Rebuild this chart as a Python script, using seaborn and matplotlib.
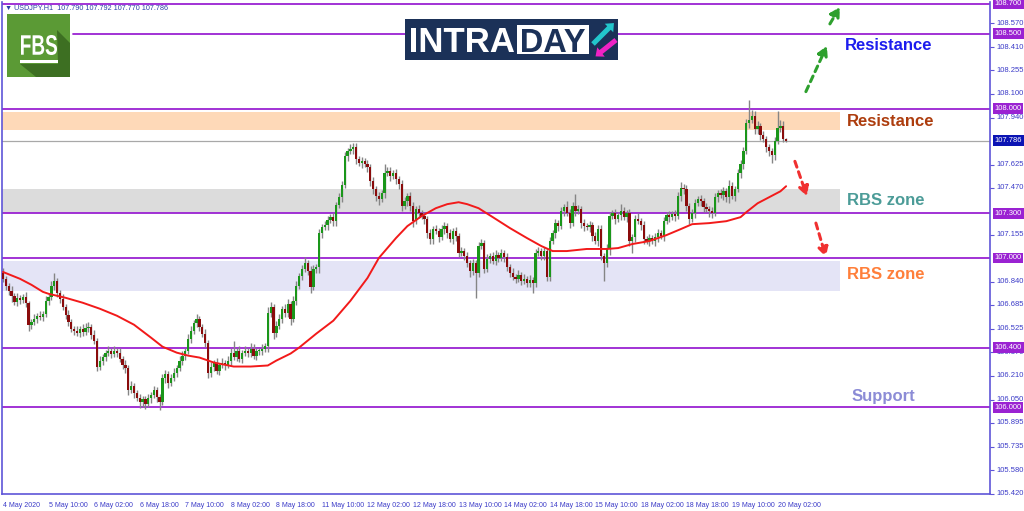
import numpy as np
import pandas as pd
import matplotlib
matplotlib.use("Agg")
import matplotlib.pyplot as plt
import seaborn as sns
from matplotlib import font_manager
from matplotlib.patches import Rectangle, Polygon, FancyArrow, PathPatch
from matplotlib.textpath import TextPath
from matplotlib.font_manager import FontProperties
from matplotlib.transforms import Affine2D, IdentityTransform

# ---------------- data ----------------
first_open = 106.900
closes = [
    106.860, 106.813, 106.780, 106.746, 106.706, 106.733, 106.720, 106.740, 106.700, 106.553,
    106.573, 106.593, 106.613, 106.606, 106.626, 106.713, 106.740, 106.813, 106.846, 106.766,
    106.726, 106.673, 106.620, 106.573, 106.526, 106.513, 106.500, 106.526, 106.506, 106.533,
    106.540, 106.486, 106.446, 106.273, 106.313, 106.340, 106.366, 106.380, 106.360, 106.380,
    106.366, 106.326, 106.286, 106.260, 106.113, 106.146, 106.093, 106.060, 106.033, 106.053,
    106.020, 106.060, 106.080, 106.113, 106.066, 106.033, 106.193, 106.220, 106.160, 106.193,
    106.233, 106.260, 106.313, 106.346, 106.380, 106.460, 106.513, 106.566, 106.593, 106.540,
    106.493, 106.433, 106.233, 106.273, 106.300, 106.246, 106.280, 106.300, 106.280, 106.313,
    106.366, 106.340, 106.380, 106.326, 106.366, 106.380, 106.366, 106.393, 106.346, 106.380,
    106.380, 106.393, 106.413, 106.633, 106.673, 106.500, 106.546, 106.593, 106.660, 106.633,
    106.693, 106.593, 106.713, 106.813, 106.880, 106.926, 106.966, 106.913, 106.806, 106.926,
    106.940, 107.166, 107.206, 107.220, 107.253, 107.273, 107.246, 107.353, 107.406, 107.486,
    107.680, 107.713, 107.726, 107.740, 107.660, 107.633, 107.646, 107.626, 107.606, 107.513,
    107.460, 107.413, 107.393, 107.433, 107.566, 107.580, 107.546, 107.566, 107.526, 107.493,
    107.346, 107.380, 107.413, 107.346, 107.246, 107.326, 107.300, 107.280, 107.260, 107.166,
    107.126, 107.193, 107.180, 107.140, 107.193, 107.213, 107.166, 107.126, 107.180, 107.146,
    107.033, 107.046, 107.013, 106.966, 106.913, 106.966, 106.900, 107.080, 107.100, 106.926,
    106.993, 107.013, 106.980, 107.020, 107.000, 107.033, 107.006, 106.940, 106.900, 106.873,
    106.860, 106.886, 106.846, 106.860, 106.833, 106.853, 106.833, 107.033, 107.046, 107.013,
    107.046, 106.873, 107.113, 107.166, 107.233, 107.213, 107.313, 107.340, 107.300, 107.233,
    107.346, 107.313, 107.326, 107.233, 107.213, 107.206, 107.220, 107.146, 107.113, 107.193,
    107.013, 106.966, 107.060, 107.280, 107.300, 107.260, 107.286, 107.313, 107.273, 107.300,
    107.113, 107.140, 107.260, 107.246, 107.220, 107.126, 107.113, 107.133, 107.113, 107.140,
    107.166, 107.146, 107.246, 107.286, 107.273, 107.293, 107.280, 107.413, 107.466, 107.460,
    107.346, 107.260, 107.300, 107.366, 107.393, 107.380, 107.340, 107.326, 107.313, 107.300,
    107.406, 107.433, 107.420, 107.446, 107.406, 107.480, 107.413, 107.460, 107.566, 107.626,
    107.713, 107.900, 107.926, 107.953, 107.860, 107.886, 107.820, 107.793, 107.740, 107.713,
    107.686, 107.780, 107.873, 107.886, 107.793, 107.786,
]
# wick lengths beyond the body, in pips (0.01)
up_wick_pips = [
    3, 2, 2, 3, 2, 3, 2, 2, 3, 1, 2, 3, 2, 3, 2, 3, 2, 3, 5, 2,
    2, 3, 2, 3, 2, 2, 3, 2, 3, 3, 3, 2, 3, 2, 3, 2, 2, 3, 2, 3,
    2, 3, 2, 3, 2, 3, 2, 2, 3, 2, 2, 3, 2, 3, 2, 2, 3, 3, 2, 3,
    3, 2, 3, 3, 2, 3, 3, 2, 3, 2, 2, 3, 2, 3, 2, 3, 2, 3, 2, 3,
    3, 8, 2, 3, 2, 3, 2, 4, 3, 2, 2, 3, 2, 4, 3, 2, 3, 3, 2, 3,
    3, 2, 3, 3, 2, 3, 4, 2, 3, 3, 2, 3, 2, 3, 3, 2, 3, 2, 3, 3,
    3, 2, 4, 3, 3, 2, 3, 2, 3, 2, 3, 2, 3, 2, 6, 3, 3, 2, 3, 2,
    3, 3, 2, 3, 3, 2, 3, 2, 3, 2, 3, 2, 3, 2, 3, 3, 2, 3, 2, 3,
    2, 3, 2, 3, 2, 3, 2, 3, 3, 2, 3, 2, 3, 3, 2, 3, 2, 3, 2, 3,
    2, 3, 2, 3, 2, 3, 2, 3, 3, 2, 3, 2, 3, 2, 3, 2, 3, 2, 4, 3,
    3, 8, 3, 2, 3, 2, 3, 2, 3, 3, 3, 2, 3, 3, 2, 3, 2, 5, 3, 2,
    3, 2, 3, 4, 2, 3, 2, 3, 2, 3, 3, 2, 3, 2, 3, 2, 3, 3, 4, 3,
    3, 2, 3, 3, 2, 3, 2, 3, 2, 3, 3, 2, 3, 3, 2, 4, 3, 2, 3, 3,
    3, 3, 13, 4, 3, 3, 2, 3, 2, 2, 2, 3, 11, 4, 3, 1,
]
down_wick_pips = [
    2, 3, 3, 4, 2, 3, 3, 2, 3, 4, 3, 2, 3, 2, 3, 2, 3, 2, 3, 3,
    3, 2, 3, 3, 2, 3, 2, 3, 3, 2, 3, 3, 2, 3, 2, 3, 3, 2, 3, 2,
    3, 2, 3, 3, 3, 2, 3, 2, 4, 3, 3, 2, 3, 2, 3, 5, 2, 3, 3, 2,
    2, 3, 2, 3, 3, 2, 3, 2, 3, 3, 2, 3, 4, 3, 3, 2, 3, 2, 3, 2,
    3, 2, 3, 2, 3, 2, 3, 3, 2, 3, 3, 3, 2, 4, 3, 4, 3, 2, 3, 3,
    3, 4, 2, 3, 2, 3, 2, 3, 4, 2, 3, 4, 3, 2, 3, 2, 3, 3, 2, 3,
    2, 3, 2, 3, 3, 2, 3, 2, 3, 3, 3, 3, 4, 2, 3, 2, 3, 2, 3, 3,
    3, 2, 3, 3, 4, 2, 3, 2, 3, 3, 3, 3, 2, 3, 2, 3, 3, 2, 3, 3,
    3, 2, 3, 3, 4, 3, 17, 3, 2, 3, 2, 3, 2, 3, 3, 2, 3, 3, 3, 2,
    3, 2, 3, 2, 3, 3, 7, 3, 2, 3, 3, 3, 3, 2, 3, 3, 2, 3, 2, 3,
    2, 3, 2, 3, 3, 2, 3, 3, 2, 3, 3, 12, 3, 4, 2, 3, 2, 3, 2, 3,
    3, 8, 3, 2, 3, 3, 2, 3, 2, 3, 3, 2, 3, 2, 3, 2, 3, 2, 3, 3,
    3, 3, 2, 3, 2, 3, 3, 2, 4, 3, 2, 3, 2, 3, 3, 4, 2, 3, 2, 3,
    3, 2, 3, 2, 3, 3, 3, 2, 3, 3, 5, 3, 2, 3, 2, 1,
]
# moving average (red line), read at these bar indices
ma_bars = [0, 6, 10, 14, 16, 22, 28, 34, 40, 46, 52, 56, 61, 65, 69, 74, 81, 87, 93, 96,
           101, 104, 110, 116, 122, 128, 132, 138, 142, 147, 152, 156, 160, 163, 167, 172, 178, 184, 189, 193,
           198, 205, 212, 216, 221, 227, 233, 238, 242, 248, 254, 259, 261, 265, 269, 273, 275]
ma_values = [106.906, 106.860, 106.820, 106.773, 106.760, 106.733, 106.700, 106.660, 106.613, 106.553,
             106.466, 106.406, 106.366, 106.346, 106.333, 106.300, 106.273, 106.273, 106.280, 106.313,
             106.360, 106.400, 106.493, 106.580, 106.713, 106.866, 107.000, 107.133, 107.213, 107.280,
             107.333, 107.360, 107.373, 107.360, 107.333, 107.273, 107.200, 107.133, 107.080, 107.046,
             107.046, 107.060, 107.060, 107.066, 107.093, 107.113, 107.153, 107.193, 107.226, 107.233,
             107.246, 107.273, 107.306, 107.366, 107.406, 107.446, 107.480]

xtick_bars = list(range(0, 273, 16))
xtick_labels = ["4 May 2020", "5 May 10:00", "6 May 02:00", "6 May 18:00", "7 May 10:00",
                "8 May 02:00", "8 May 18:00", "11 May 10:00", "12 May 02:00", "12 May 18:00",
                "13 May 10:00", "14 May 02:00", "14 May 18:00", "15 May 10:00", "18 May 02:00",
                "18 May 18:00", "19 May 10:00", "20 May 02:00"]
ytick_values = [108.570, 108.410, 108.255, 108.100, 107.940, 107.625, 107.470, 107.155,
                106.840, 106.685, 106.525, 106.370, 106.210, 106.050, 105.895, 105.735,
                105.580, 105.420]
level_values = [108.700, 108.500, 108.000, 107.300, 107.000, 106.400, 106.000]
last_price = 107.786
zone_names = ["resistance", "rbs_upper", "rbs_lower"]
zone_low = [107.858, 107.300, 106.780]
zone_high = [107.975, 107.460, 106.980]
header_text = "\u25BC USDJPY.H1  107.790 107.792 107.770 107.786"

# ---------------- build OHLC frame ----------------
df = pd.DataFrame({"bar": np.arange(len(closes)), "close": closes})
df["open"] = [first_open] + closes[:-1]
df["high"] = df[["open", "close"]].max(axis=1) + np.array(up_wick_pips) / 100.0
df["low"] = df[["open", "close"]].min(axis=1) - np.array(down_wick_pips) / 100.0

# ---------------- style ----------------
sns.set_style("white")
plt.rcParams["font.family"] = ["Liberation Sans", "DejaVu Sans"]

W, H = 1024, 511
PURPLE = "#9a22d2"
AXBLUE = "#5f55d8"
TXTBLUE = "#3b3bc8"

fig = plt.figure(figsize=(W / 100, H / 100), dpi=100)
fig.patch.set_facecolor("white")
ax = fig.add_axes([2 / W, 17 / H, 988 / W, 492 / H])
ax.set_facecolor("white")
XMIN, XMAX = -0.35, 346.6
YMIN, YMAX = 105.4197, 108.7133
ax.set_xlim(XMIN, XMAX)
ax.set_ylim(YMIN, YMAX)

# zones
zone_colors = ["#fed9b8", "#dcdcdc", "#e4e4f6"]
zone_end = 293.9
for lo, hi, c in zip(zone_low, zone_high, zone_colors):
    ax.fill_between([XMIN, zone_end], lo, hi, color=c, lw=0, zorder=0.5)

# horizontal levels
for v in level_values:
    xmin = 0.0719 if abs(v - 108.5) < 1e-6 else 0.0
    ax.axhline(v, xmin=xmin, xmax=1, color=PURPLE, lw=1.3, zorder=1)
ax.axhline(last_price, color="#a8a8a8", lw=0.9, zorder=1)

# candles
ax.vlines(df["bar"], df["low"], df["high"], color="#858585", lw=1.0, zorder=2)
bull = df["close"] >= df["open"]
bear = ~bull
ax.bar(df.loc[bull, "bar"], np.maximum(df.loc[bull, "close"] - df.loc[bull, "open"], 0.004),
       bottom=df.loc[bull, "open"], width=0.8, color="#1a961a", lw=0, zorder=3)
ax.bar(df.loc[bear, "bar"], np.maximum(df.loc[bear, "open"] - df.loc[bear, "close"], 0.004),
       bottom=df.loc[bear, "close"], width=0.8, color="#8a0c0c", lw=0, zorder=3)

# moving average
sns.lineplot(x=ma_bars, y=ma_values, color="#f21a1a", lw=1.4, ax=ax, legend=False, zorder=4)

# spines and ticks
ax.spines["top"].set_visible(False)
for s in ["left", "bottom", "right"]:
    ax.spines[s].set_color(AXBLUE)
    ax.spines[s].set_linewidth(1.2)
ax.yaxis.tick_right()
ax.set_yticks(ytick_values)
ax.set_yticklabels([f"{v:.3f}" for v in ytick_values])
ax.tick_params(axis="y", which="both", right=True, left=False, length=3, width=0.8,
               color=AXBLUE, labelcolor=TXTBLUE, labelsize=5.5, pad=2)
ax.set_xticks(xtick_bars)
ax.set_xticklabels(xtick_labels)
ax.tick_params(axis="x", length=4, width=0.8, color=AXBLUE, labelcolor=TXTBLUE, pad=1.5,
               labelsize=5.0)
for lab in ax.get_xticklabels():
    lab.set_ha("left")
for lab in ax.get_yticklabels():
    lab.set_va("center")
ax.set_xlabel("")
ax.set_ylabel("")

# highlighted price boxes on right axis
for v in level_values:
    ax.text(1.0045, v, f"{v:.3f}", transform=ax.get_yaxis_transform(), ha="left", va="center",
            fontsize=5.5, color="white", clip_on=False, zorder=6,
            bbox=dict(boxstyle="square,pad=0.25", fc=PURPLE, ec="none"))
ax.text(1.0045, last_price, f"{last_price:.3f}", transform=ax.get_yaxis_transform(), ha="left",
        va="center", fontsize=5.5, color="white", clip_on=False, zorder=6,
        bbox=dict(boxstyle="square,pad=0.25", fc="#0b14b4", ec="none"))

# annotations (text)
def bar_at(px):
    return (px - 3) / 2.848

def price_at(py):
    return 108.7133 - py / 150.0

labels = [("Resistance", 845, 44, "#1c1cee"), ("Resistance", 847, 120, "#ad3d0e"),
          ("RBS zone", 847, 199, "#4c9c98"), ("RBS zone", 847, 274, "#ff7f3a"),
          ("Support", 852, 396, "#8c8cd6")]
for txt, lx, ly, col in labels:
    ax.text(bar_at(lx), price_at(ly), txt, color=col, fontsize=12, fontweight="bold",
            ha="left", va="center", zorder=6)

# dashed arrows
def dashed_arrow(p0, p1, color):
    ax.annotate("", xy=(bar_at(p1[0]), price_at(p1[1])), xytext=(bar_at(p0[0]), price_at(p0[1])),
                arrowprops=dict(arrowstyle="-|>,head_length=0.55,head_width=0.3", color=color,
                                lw=2.2, linestyle=(0, (2.0, 1.6)), shrinkA=0, shrinkB=0),
                zorder=6)

dashed_arrow((806, 90), (827, 44), "#2ea02e")
dashed_arrow((830, 22), (840, 5), "#2ea02e")
dashed_arrow((795, 160), (807, 195), "#f03030")
dashed_arrow((816, 222), (826, 256), "#f03030")

# ---------------- figure decorations (pixel placement) ----------------
def rect_px(x0, y0, x1, y1, color, z=5):
    fig.add_artist(Rectangle((x0, H - y1), x1 - x0, y1 - y0, transform=IdentityTransform(),
                             fc=color, ec="none", zorder=z))

def text_box_px(s, x0, y0, x1, y1, color, z=7, family="Liberation Sans"):
    tp = TextPath((0, 0), s, size=100, prop=FontProperties(family=family, weight="bold"))
    ext = tp.get_extents()
    sx = (x1 - x0) / ext.width
    sy = (y1 - y0) / ext.height
    tr = Affine2D().translate(-ext.x0, -ext.y0).scale(sx, sy).translate(x0, H - y1) + IdentityTransform()
    fig.add_artist(PathPatch(tp, transform=tr, fc=color, ec="none", zorder=z))

# header
fig.text(5 / W, 1 - 8 / H, header_text, fontsize=5.2, color="#2840a8", ha="left", va="center",
         family=["Liberation Sans", "DejaVu Sans"])

# FBS logo
rect_px(7, 14, 70, 77, "#5b9a35")
fig.add_artist(Polygon([(57, H - 30), (70, H - 43), (70, H - 77), (36, H - 77), (20, H - 64), (58, H - 64)],
                       closed=True, transform=IdentityTransform(), fc="#3d6f22", ec="none", zorder=6))
text_box_px("FBS", 21, 35, 57, 55, "white")
rect_px(20, 60, 58, 63, "white", z=7)

# INTRADAY banner
rect_px(405, 19, 618, 60, "#1b3158")
rect_px(517, 25, 589, 54, "white", z=6)
text_box_px("INTRA", 411, 28, 514, 52, "white")
text_box_px("DAY", 522, 29, 585, 52, "#1b3158")
fig.add_artist(FancyArrow(593, H - 44, 16, 16, width=5, head_width=12, head_length=7,
                          length_includes_head=False, transform=IdentityTransform(),
                          fc="#22c6cc", ec="none", zorder=7))
fig.add_artist(FancyArrow(616, H - 40, -15, -12, width=5, head_width=12, head_length=7,
                          length_includes_head=False, transform=IdentityTransform(),
                          fc="#ee22c4", ec="none", zorder=7))

fig.savefig("out.png", dpi=100)
